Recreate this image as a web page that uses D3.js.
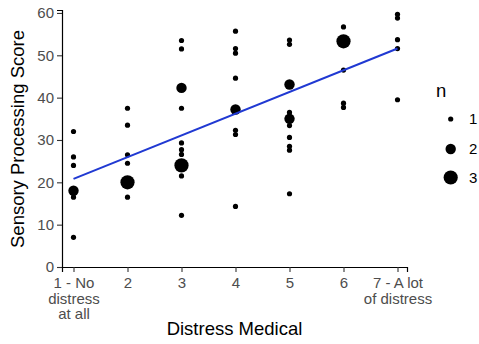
<!DOCTYPE html>
<html>
<head>
<meta charset="utf-8">
<script src="https://cdn.jsdelivr.net/npm/d3@7"></script>
<style>
  html, body { margin: 0; padding: 0; background: #fff; }
  svg { display: block; font-family: "Liberation Sans", Arial, sans-serif; }
</style>
</head>
<body>
<svg id="chart" width="479" height="344"></svg>
<script>
// ---- data ----
const distress = [1,1,1,1,1,1, 2,2,2,2,2,2, 3,3,3,3,3,3,3,3,3,3, 4,4,4,4,4,4,4,4, 5,5,5,5,5,5,5,5,5,5, 6,6,6,6,6, 7,7,7,7,7];
const score    = [32,26,24,18,16.5,7, 37.5,33.5,26.5,24.5,20,16.5, 53.5,51.5,42.3,37.5,29.3,27.7,26.6,24,21.5,12.2, 55.7,51.6,50.5,44.6,37.2,32.3,31.3,14.3, 53.6,52.6,43.1,36.5,35,33.4,30.6,28.5,27.6,17.3, 56.7,53.3,46.5,38.7,37.7, 59.7,58.8,53.7,51.6,39.5];
const counts   = [1,1,1,2,1,1, 1,1,1,1,3,1, 1,1,2,1,1,1,1,3,1,1, 1,1,1,1,2,1,1,1, 1,1,2,1,2,1,1,1,1,1, 1,3,1,1,1, 1,1,1,1,1];
const fitX = [1, 7];
const fitY = [20.8, 51.6];
const xTickValues = [1,2,3,4,5,6,7];
const xTickLabels = [["1 - No","distress","at all"],["2"],["3"],["4"],["5"],["6"],["7 - A lot","of distress"]];
const yTickValues = [0,10,20,30,40,50,60];
const legendN = [1,2,3];

const svg = d3.select("#chart");
const x = d3.scaleLinear().domain([1 - 11.5/54, 7 + 9.5/54]).range([62, 407]);
const y = d3.scaleLinear().domain([0, 60.7]).range([267, 10]);
const r = d3.scaleOrdinal().domain([1,2,3]).range([2.6, 5.2, 7.1]);

// axes
const yAxis = d3.axisLeft(y).tickValues(yTickValues).tickSize(5).tickPadding(3);
const gy = svg.append("g").attr("transform", "translate(62,0)").call(yAxis);
gy.select(".domain").attr("stroke", "#000").attr("stroke-width", 1.2);
gy.selectAll(".tick line").attr("stroke", "#333").attr("stroke-width", 1.1);
gy.selectAll(".tick text").attr("fill", "#4d4d4d").attr("font-size", 15)
  .attr("font-family", "Liberation Sans, Arial, sans-serif");

const xAxis = d3.axisBottom(x).tickValues(xTickValues).tickSize(5).tickFormat(() => "");
const gx = svg.append("g").attr("transform", "translate(0,267)").call(xAxis);
gx.select(".domain").attr("stroke", "#000").attr("stroke-width", 1.2);
gx.selectAll(".tick line").attr("stroke", "#333").attr("stroke-width", 1.1);
gx.selectAll(".tick").each(function(d, i) {
  const t = d3.select(this).append("text")
    .attr("fill", "#4d4d4d").attr("font-size", 15).attr("text-anchor", "middle")
    .attr("font-family", "Liberation Sans, Arial, sans-serif");
  xTickLabels[i].forEach((line, j) => {
    t.append("tspan").attr("x", 0).attr("y", 21 + j * 15.5).text(line);
  });
});

// points
svg.append("g").selectAll("circle")
  .data(distress.map((d, i) => ({x: d, y: score[i], n: counts[i]})))
  .join("circle")
  .attr("cx", d => x(d.x)).attr("cy", d => y(d.y)).attr("r", d => r(d.n))
  .attr("fill", "#000");

// fit line
svg.append("path")
  .datum(fitX.map((d, i) => [d, fitY[i]]))
  .attr("d", d3.line().x(d => x(d[0])).y(d => y(d[1])))
  .attr("fill", "none").attr("stroke", "#2039d2").attr("stroke-width", 2);

// axis titles
svg.append("text").attr("x", 234.5).attr("y", 334.5).attr("text-anchor", "middle")
  .attr("font-size", 18.5).attr("fill", "#000").text("Distress Medical");
svg.append("text").attr("transform", "translate(24,139) rotate(-90)").attr("text-anchor", "middle")
  .attr("font-size", 18.5).attr("fill", "#000").text("Sensory Processing Score");

// legend
const lg = svg.append("g");
lg.append("text").attr("x", 436).attr("y", 97).attr("font-size", 18.5).attr("fill", "#000").text("n");
const ly = [119, 149, 177.5];
legendN.forEach((n, i) => {
  lg.append("circle").attr("cx", 450.7).attr("cy", ly[i]).attr("r", r(n)).attr("fill", "#000");
  lg.append("text").attr("x", 469).attr("y", ly[i] + 5.3).attr("font-size", 15).attr("fill", "#000").text(n);
});
</script>
</body>
</html>
